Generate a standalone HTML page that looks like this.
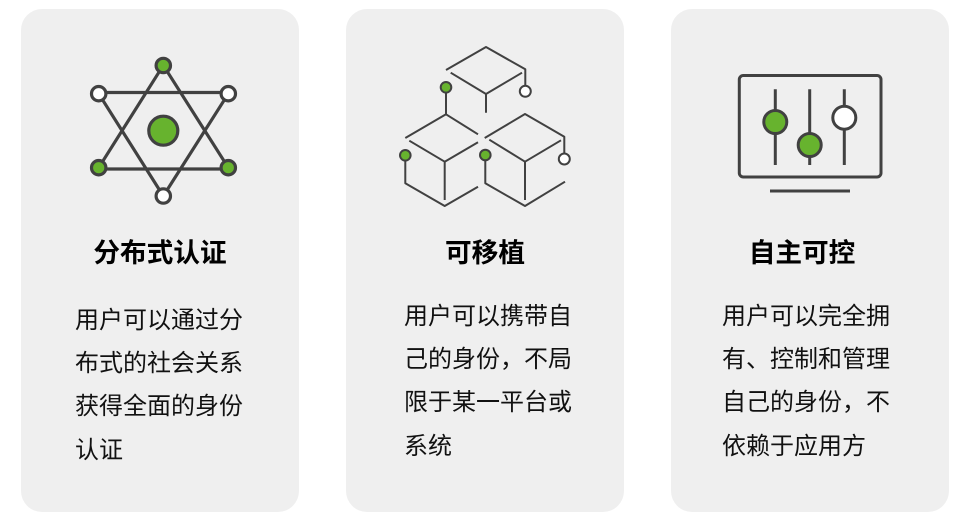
<!DOCTYPE html>
<html><head><meta charset="utf-8">
<style>
html,body{margin:0;padding:0;background:#fff}
#p{position:relative;width:964px;height:523px;overflow:hidden;background:#fff;font-family:"Liberation Sans","Noto Sans CJK SC",sans-serif}
.c{position:absolute;top:9px;width:278px;height:503px;border-radius:21px;background:#efefef}
.t{position:absolute;font-size:26.67px;font-weight:700;color:#000;white-space:nowrap;line-height:36px;text-align:center;top:235px}
.l{position:absolute;font-size:24px;color:#111;white-space:nowrap;line-height:43.2px}
svg{position:absolute;left:0;top:0}
</style></head><body><div id="p">
<div class="c" style="left:21px"></div>
<div class="c" style="left:346px"></div>
<div class="c" style="left:671px"></div>
<svg width="964" height="523" fill="none" stroke="#414141" stroke-linecap="butt" stroke-linejoin="round">
<g stroke-width="3.2">
<path d="M98.7 92.5H228.3M98.7 169H228.3M163.3 65.3L228.3 167.7M163.3 65.3L98.7 167.7M98.7 93.7L163.3 196M228.3 93.7L163.3 196"/>
<circle cx="163.3" cy="65.5" r="7.2" fill="#67b32e"/>
<circle cx="98.7" cy="93.7" r="7.2" fill="#fff"/>
<circle cx="228.3" cy="93.7" r="7.2" fill="#fff"/>
<circle cx="98.7" cy="167.7" r="7.2" fill="#67b32e"/>
<circle cx="228.3" cy="167.7" r="7.2" fill="#67b32e"/>
<circle cx="163.3" cy="196" r="7.2" fill="#fff"/>
<circle cx="163.3" cy="130.7" r="14.5" fill="#67b32e"/>
</g>
<g stroke-width="2">
<path d="M446 70L486 47L525.3 69.3V91M450.7 72.7L486 94L522 72.7M486 94V112.7"/>
<path d="M446 87V114.3L405.3 138M446 114.3L478 134.3M409.3 140.7L444.7 161.7L478 142.3M444.7 161.7V200M405.3 155V183.3L444.7 206L478 186.7"/>
<path d="M484.7 138L525 114L564.3 136.7V159M489.3 139.7L525 161.7L561 140.3M525 161.7V200M485.3 155V183.3L525 206L565 181.7"/>
<circle cx="446" cy="87.3" r="5.3" fill="#67b32e"/>
<circle cx="525.3" cy="91.3" r="5.5" fill="#fff"/>
<circle cx="405.3" cy="155.3" r="5.3" fill="#67b32e"/>
<circle cx="485.3" cy="155" r="5.3" fill="#67b32e"/>
<circle cx="564.3" cy="159" r="5.5" fill="#fff"/>
</g>
<g stroke-width="3">
<rect x="739.3" y="75.5" width="141.7" height="101.5" rx="4"/>
<path d="M775.3 89.3V165M809.7 89.3V165M844.3 89.3V165"/>
<circle cx="775.3" cy="122" r="11.5" fill="#67b32e"/>
<circle cx="809.7" cy="145" r="11.5" fill="#67b32e"/>
<circle cx="844.3" cy="117.7" r="11.5" fill="#fff"/>
<path d="M770 191H850"/>
</g>
</svg>
<div class="t" style="left:21px;width:278px">分布式认证</div>
<div class="t" style="left:346px;width:278px">可移植</div>
<div class="t" style="left:663px;width:278px">自主可控</div>
<div class="l" style="left:75px;top:299px">用户可以通过分<br>布式的社会关系<br>获得全面的身份<br>认证</div>
<div class="l" style="left:404px;top:295px">用户可以携带自<br>己的身份，不局<br>限于某一平台或<br>系统</div>
<div class="l" style="left:722px;top:295px">用户可以完全拥<br>有、控制和管理<br>自己的身份，不<br>依赖于应用方</div>
</div></body></html>
